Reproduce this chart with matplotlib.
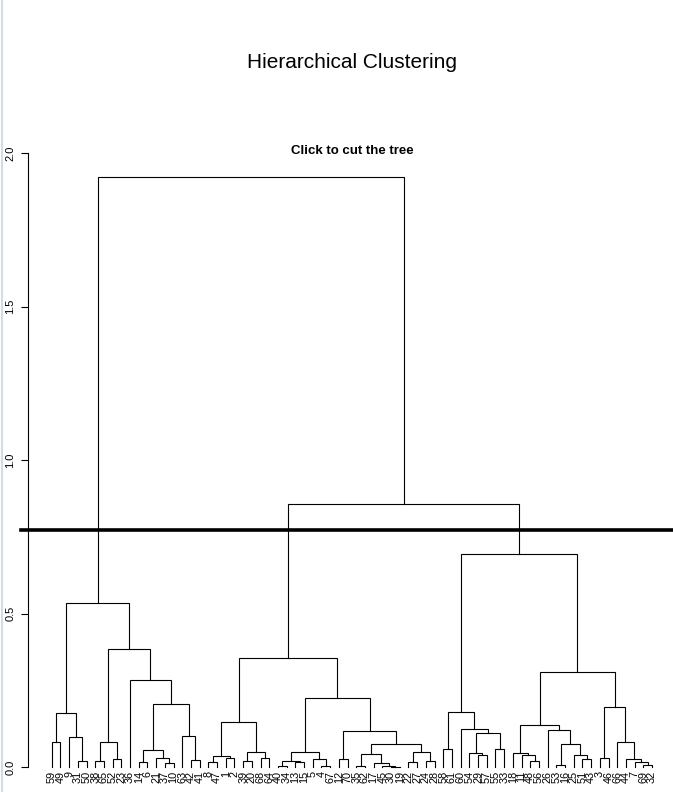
"""Recreate the R-style hierarchical clustering dendrogram with a cut line."""

import matplotlib
matplotlib.use("Agg")
import matplotlib.pyplot as plt
from matplotlib.lines import Line2D

# leaf order along the x axis (as printed under the tree)
leaf_labels = [59, 49, 9, 31, 50, 38, 65, 52, 23, 36, 14, 6, 21, 37, 10, 63, 42, 41,
               8, 47, 1, 2, 39, 20, 68, 64, 40, 34, 13, 15, 5, 4, 67, 12, 70, 35, 62,
               17, 45, 30, 19, 22, 27, 24, 28, 58, 61, 60, 54, 29, 57, 55, 33, 18, 11,
               48, 56, 26, 53, 16, 25, 51, 43, 3, 46, 66, 44, 7, 69, 32]

# hclust-style merge table: negative = leaf label, positive = earlier merge (1-based)
merge_left = [-59, -31, -9, 1, -38, -52, 5, -14, -37, -21, 8, -42, -63, 11, -36, 7, 4,
              -8, -1, 18, -39, -68, 21, 20, -40, -13, 25, -4, -5, 27,
              -12, -35, -30, -45, -17, 32, -22, -24, 37, 36, 31, 30, 24,
              -58, -29, -54, -55, 46, -60, 44, -48, -11, -18, -53, -51, -25, 54, -26,
              53, -69, -7, -44, -66, -3, 64, 59, 50, 43, 17]
merge_right = [-49, -50, 2, 3, -65, -23, 6, -6, -10, 9, 10, -41, 12, 13, 14, 15, 16,
               -47, -2, 19, -20, -64, 22, 23, -34, -15, 26, -67, 28, 29,
               -70, -62, -19, 33, 34, 35, -27, -28, 38, 39, 40, 41, 42,
               -61, -57, 45, -33, 47, 48, 49, -56, 51, 52, -16, -43, 55, 56, 57,
               58, -32, 60, 61, 62, -46, 63, 65, 66, 67, 68]
merge_height = [0.082, 0.020, 0.099, 0.175, 0.020, 0.025, 0.082, 0.015, 0.012, 0.028,
                0.055, 0.023, 0.100, 0.205, 0.283, 0.385, 0.535,
                0.015, 0.030, 0.036, 0.020, 0.030, 0.048, 0.148, 0.004, 0.016, 0.018,
                0.002, 0.027, 0.050,
                0.026, 0.002, 0.001, 0.002, 0.012, 0.041, 0.015, 0.020, 0.048, 0.074,
                0.118, 0.225, 0.355,
                0.060, 0.040, 0.045, 0.060, 0.110, 0.123, 0.180, 0.020, 0.040, 0.045,
                0.005, 0.025, 0.040, 0.075, 0.120, 0.137, 0.006, 0.015, 0.025, 0.082,
                0.028, 0.195, 0.310, 0.695, 0.858, 1.922]

cut_height = 0.772
main_title = "Hierarchical Clustering"
sub_title = "Click to cut the tree"
y_ticks = [0.0, 0.5, 1.0, 1.5, 2.0]

W, H = 673, 792
plt.rcParams["font.family"] = ["Liberation Sans", "DejaVu Sans"]
fig = plt.figure(figsize=(W / 100, H / 100), dpi=100)

# plot region in pixels (R usr extends 4% past the data)
px_per_x = 8.70
px_per_y = 307.0
x0, x1 = -1.76, 72.76
y0, y1 = -0.077, 2.003
left_px = 51.7 - (1 - x0) * px_per_x
bottom_px = 767.0 + (0 - y0) * px_per_y
ax = fig.add_axes([left_px / W, (H - bottom_px) / H,
                   (x1 - x0) * px_per_x / W, (y1 - y0) * px_per_y / H])
ax.set_xlim(x0, x1)
ax.set_ylim(y0, y1)

pos = {lab: i + 1 for i, lab in enumerate(leaf_labels)}
node_x, node_h = [], []


def child(ref):
    if ref < 0:
        return pos[-ref], 0.0
    return node_x[ref - 1], node_h[ref - 1]


for l, r, h in zip(merge_left, merge_right, merge_height):
    (xl, hl), (xr, hr) = child(l), child(r)
    ax.plot([xl, xl, xr, xr], [hl, h, h, hr], color="black", lw=0.8,
            solid_joinstyle="miter", clip_on=False)
    node_x.append((xl + xr) / 2)
    node_h.append(h)

# leaf labels under the tree
for lab, x in pos.items():
    ax.text(x, -0.012, str(lab), rotation=90, ha="center", va="top", fontsize=7.8)

# cut line
ax.axhline(cut_height, color="black", lw=2.6, xmin=-0.01, clip_on=False)

for s in ["top", "right", "bottom"]:
    ax.spines[s].set_visible(False)
ax.spines["left"].set_bounds(0, 2.0)
ax.spines["left"].set_linewidth(0.8)
ax.set_xticks([])
ax.set_yticks(y_ticks)
ax.set_yticklabels([f"{t:.1f}" for t in y_ticks], rotation=90, va="center", fontsize=8)
ax.tick_params(axis="y", length=5, width=0.8, pad=4)

cx = (left_px + (x1 - x0) * px_per_x / 2) / W
fig.text(cx, 1 - 62 / H, main_title, ha="center", va="center", fontsize=15)
fig.text(cx, 1 - 151 / H, sub_title, ha="center", va="center", fontsize=9.5,
         fontweight="bold")

# faint border on the left edge of the screenshot
fig.add_artist(Line2D([1.5 / W, 1.5 / W], [0, 1], color="#d4dbe2", lw=1.5))

fig.savefig("out.png", dpi=100)
